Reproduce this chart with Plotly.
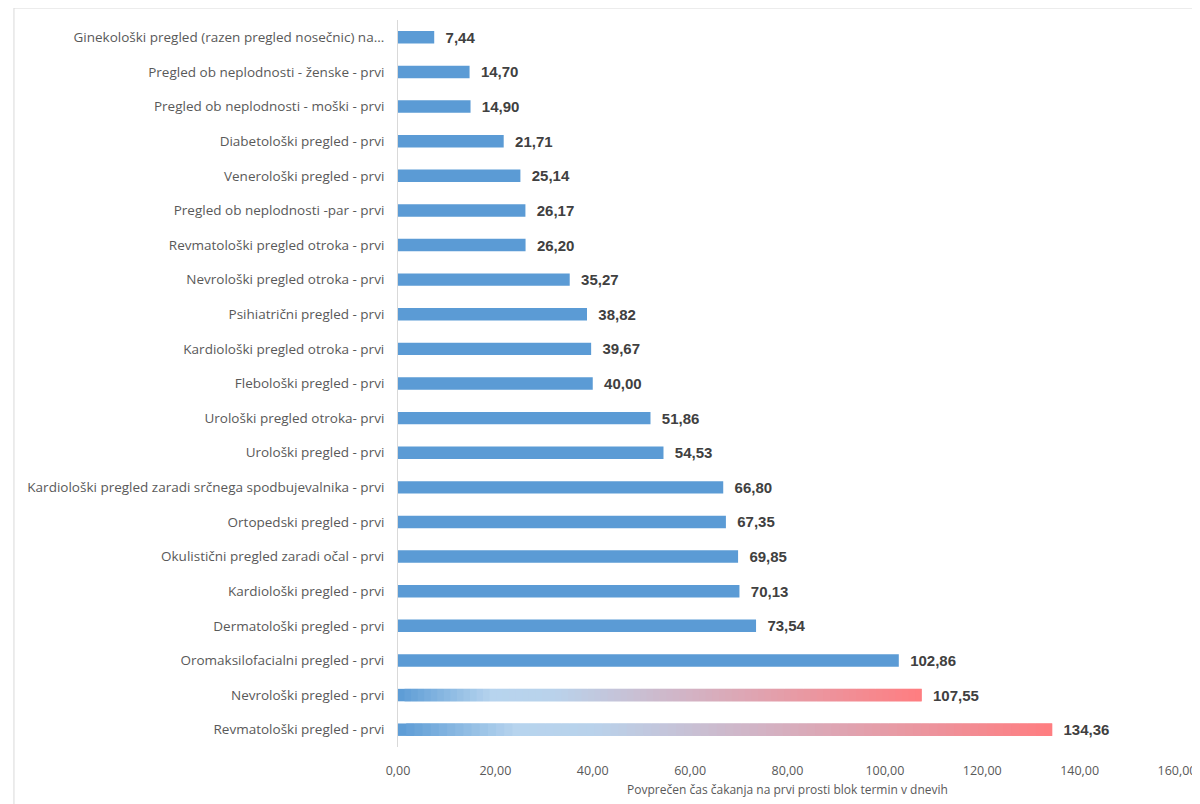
import plotly.graph_objects as go

categories = [
    "Ginekološki pregled (razen pregled nosečnic) na...",
    "Pregled ob neplodnosti - ženske - prvi",
    "Pregled ob neplodnosti - moški - prvi",
    "Diabetološki pregled - prvi",
    "Venerološki pregled - prvi",
    "Pregled ob neplodnosti -par - prvi",
    "Revmatološki pregled otroka - prvi",
    "Nevrološki pregled otroka - prvi",
    "Psihiatrični pregled - prvi",
    "Kardiološki pregled otroka - prvi",
    "Flebološki pregled - prvi",
    "Urološki pregled otroka- prvi",
    "Urološki pregled - prvi",
    "Kardiološki pregled zaradi srčnega spodbujevalnika - prvi",
    "Ortopedski pregled - prvi",
    "Okulistični pregled zaradi očal - prvi",
    "Kardiološki pregled - prvi",
    "Dermatološki pregled - prvi",
    "Oromaksilofacialni pregled - prvi",
    "Nevrološki pregled - prvi",
    "Revmatološki pregled - prvi",
]
values = [7.44, 14.70, 14.90, 21.71, 25.14, 26.17, 26.20, 35.27, 38.82, 39.67,
          40.00, 51.86, 54.53, 66.80, 67.35, 69.85, 70.13, 73.54, 102.86,
          107.55, 134.36]
gradient_categories = ["Nevrološki pregled - prvi", "Revmatološki pregled - prvi"]

x_title = "Povprečen čas čakanja na prvi prosti blok termin v dnevih"

BLUE = "#5B9BD5"
grad_stops = [(0.0, (91, 155, 213)), (0.18, (183, 212, 238)), (0.30, (185, 210, 235)),
              (1.0, (255, 125, 128))]


def grad_color(t):
    for (t0, c0), (t1, c1) in zip(grad_stops[:-1], grad_stops[1:]):
        if t0 <= t <= t1:
            f = (t - t0) / (t1 - t0) if t1 > t0 else 0
            c = [round(a + (b - a) * f) for a, b in zip(c0, c1)]
            return "rgb(%d,%d,%d)" % tuple(c)
    return "rgb(%d,%d,%d)" % grad_stops[-1][1]


def fmt(v):
    return ("%.2f" % v).replace(".", ",")


fig = go.Figure()

# gradient-filled bars built from overlapping slices (drawn first)
N = 80
for cat, val in zip(categories, values):
    if cat not in gradient_categories:
        continue
    w = val / N
    fig.add_trace(go.Bar(
        y=[cat] * N,
        x=[min(w * 2.0, val - i * w) for i in range(N)],
        base=[i * w for i in range(N)],
        orientation="h",
        marker=dict(color=[grad_color((i + 0.5) / N) for i in range(N)], line=dict(width=0)),
        hoverinfo="skip", showlegend=False,
    ))

colors = [BLUE if c not in gradient_categories else "rgba(0,0,0,0)" for c in categories]
fig.add_trace(go.Bar(
    y=categories, x=values, orientation="h",
    marker=dict(color=colors, line=dict(width=0)),
    text=["  " + fmt(v) for v in values], textposition="outside",
    constraintext="none",
    textfont=dict(family="Liberation Sans", size=15, color="#404040", weight="bold"),
    cliponaxis=False, hoverinfo="skip", showlegend=False,
))

fig.update_layout(
    width=1200, height=804,
    barmode="overlay", bargap=0.64,
    separators=",.",
    paper_bgcolor="white", plot_bgcolor="white",
    margin=dict(l=390, r=23, t=12, b=65),
    font=dict(family="Open Sans", color="#595959"),
    xaxis=dict(
        range=[0, 160], dtick=20, tickformat=".2f",
        showgrid=False, zeroline=False, showline=False,
        tickfont=dict(size=12.5, color="#595959"),
        title=dict(text=x_title, font=dict(size=12, color="#595959"), standoff=8),
        ticks="", ticklen=0, ticklabelstandoff=14,
    ),
    yaxis=dict(
        categoryorder="array", categoryarray=categories,
        autorange="reversed", showgrid=False, showline=True, linecolor="#D9D9D9",
        linewidth=1, ticks="", ticklabelstandoff=10,
        tickfont=dict(size=13.5, color="#595959"),
    ),
    shapes=[dict(type="rect", xref="paper", yref="paper",
                 x0=-0.493, x1=1.2, y0=-0.2, y1=1.0165,
                 line=dict(color="#D9D9D9", width=1), layer="below")],
)

fig.write_html("out.html")
